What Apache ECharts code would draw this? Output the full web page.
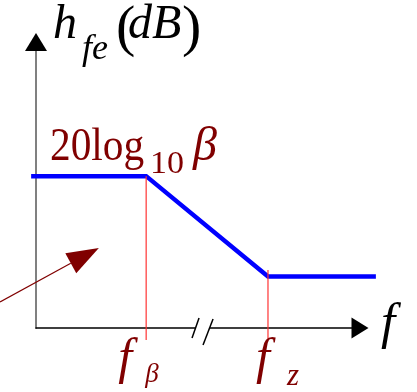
<!DOCTYPE html>
<html>
<head>
<meta charset="utf-8">
<script src="https://cdn.jsdelivr.net/npm/echarts@6/dist/echarts.min.js"></script>
<style>
  html, body { margin: 0; padding: 0; background: #fff; }
  #c { width: 417px; height: 392px; }
</style>
</head>
<body>
<div id="c"></div>
<script>
// Asymptotic (Bode) gain of h_fe versus frequency, in abstract axis units.
const freqPts = [-0.15, 3.4, 7.16, 10.49];
const gainPts = [5.31, 5.31, 1.80, 1.80];

// Corner frequencies: f_beta and f_z, with the top of each marker line.
const cornerFreqs = [3.4, 7.16];
const cornerTops = [5.31, 2.03];
const cornerSubs = ['β', 'z'];
const markerFloor = -0.42;

// Axis break position and the annotation pointer (tail -> head).
const breakAt = 5.14;
const pointerTail = [-1.11, 0.91];
const pointerHead = [1.94, 2.80];

// Text pieces.
const yLabel = ['h', 'fe', '(', 'dB', ')'];
const levelLabel = ['20log', '10', 'β'];
const xLabel = 'f';

const SERIF = '"Liberation Serif"';
const DARK_RED = '#800000';

// Axis frame: x from 0 to 10, y from 0 to 10.
const X_MIN = 0, X_MAX = 10, Y_MIN = 0, Y_MAX = 10;
const G_LEFT = 36, G_RIGHT = 57, G_TOP = 42, G_BOTTOM = 64;
const W = 417;
// The gain curve runs a little past both ends of the axes, so it gets its own
// grid spanning its full frequency range with the same units-per-pixel.
const unitPx = (W - G_LEFT - G_RIGHT) / (X_MAX - X_MIN);
const curveMin = Math.min.apply(null, freqPts), curveMax = Math.max.apply(null, freqPts);
const curveLeft = G_LEFT + (curveMin - X_MIN) * unitPx;
const curveRight = W - (G_LEFT + (curveMax - X_MIN) * unitPx);

const hiddenAxis = {
  show: false, type: 'value',
  axisLine: { show: false }, axisTick: { show: false }, axisLabel: { show: false }, splitLine: { show: false }
};

const chart = echarts.init(document.getElementById('c'), null, { renderer: 'canvas' });

chart.setOption({
  animation: false,
  backgroundColor: '#ffffff',
  grid: [
    { left: G_LEFT, right: G_RIGHT, top: G_TOP, bottom: G_BOTTOM },
    { left: curveLeft, right: curveRight, top: G_TOP, bottom: G_BOTTOM }
  ],
  xAxis: [
    {
      gridIndex: 0, type: 'value', min: X_MIN, max: X_MAX,
      axisLine: {
        show: true,
        lineStyle: { color: '#000000', width: 1.5 },
        symbol: ['none', 'triangle'],
        symbolSize: [21, 17]
      },
      axisTick: { show: false }, axisLabel: { show: false }, splitLine: { show: false }
    },
    Object.assign({ gridIndex: 1, min: curveMin, max: curveMax }, hiddenAxis)
  ],
  yAxis: [
    {
      gridIndex: 0, type: 'value', min: Y_MIN, max: Y_MAX,
      axisLine: { show: true, onZero: false, lineStyle: { color: '#808080', width: 2 } },
      axisTick: { show: false }, axisLabel: { show: false }, splitLine: { show: false }
    },
    Object.assign({ gridIndex: 1, min: Y_MIN, max: Y_MAX }, hiddenAxis)
  ],
  series: [
    {
      type: 'line',
      xAxisIndex: 1, yAxisIndex: 1,
      data: freqPts.map((f, i) => [f, gainPts[i]]),
      symbol: 'none',
      clip: false,
      lineStyle: { color: '#0000ff', width: 4.5, cap: 'butt', join: 'miter' },
      z: 3
    }
  ].concat(cornerFreqs.map((f, i) => ({
    type: 'line',
    xAxisIndex: 0, yAxisIndex: 0,
    data: [[f, cornerTops[i]], [f, markerFloor]],
    symbol: 'none',
    clip: false,
    lineStyle: { color: '#ff3333', width: 1.2 },
    z: 4
  })))
});

const px = (p) => chart.convertToPixel({ gridIndex: 0 }, p);

// Text helper: (x, baseline) in pixels; zrender draws with a middle baseline.
function txt(s, x, base, size, color, italic, sx) {
  return {
    type: 'text', z: 50,
    x: x, y: base - 0.3375 * size,
    scaleX: sx || 1,
    style: {
      text: s, x: 0, y: 0,
      font: (italic ? 'italic ' : '') + size + 'px ' + SERIF,
      fill: color, align: 'left', verticalAlign: 'middle'
    }
  };
}

const g = [];

// Y axis arrow head
const yTop = px([X_MIN, Y_MAX]);
g.push({
  type: 'polygon', z: 40,
  shape: { points: [[yTop[0], yTop[1] - 9], [yTop[0] - 11, yTop[1] + 9], [yTop[0] + 11, yTop[1] + 9]] },
  style: { fill: '#000000' }
});

// Axis break "//"
const bc = px([breakAt, 0]);
g.push({
  type: 'rect', z: 40,
  shape: { x: bc[0] - 7.5, y: bc[1] - 4, width: 15, height: 8 },
  style: { fill: '#ffffff' }
});
g.push({
  type: 'line', z: 41,
  shape: { x1: bc[0] - 3.5, y1: bc[1] - 10, x2: bc[0] - 10.5, y2: bc[1] + 10 },
  style: { stroke: '#000000', lineWidth: 1.5 }
});
g.push({
  type: 'line', z: 41,
  shape: { x1: bc[0] + 10.5, y1: bc[1] - 9, x2: bc[0] + 0.5, y2: bc[1] + 17 },
  style: { stroke: '#000000', lineWidth: 1.5 }
});

// Pointer arrow
const pt = px(pointerTail), ph = px(pointerHead);
const dx = ph[0] - pt[0], dy = ph[1] - pt[1];
const len = Math.hypot(dx, dy);
const ux = dx / len, uy = dy / len, nx = -uy, ny = ux;
const headLen = 32, headHalf = 11.4;
const bx = ph[0] - ux * headLen, by = ph[1] - uy * headLen;
g.push({
  type: 'line', z: 30,
  shape: { x1: pt[0], y1: pt[1], x2: bx, y2: by },
  style: { stroke: DARK_RED, lineWidth: 1.2 }
});
g.push({
  type: 'polygon', z: 31,
  shape: { points: [[ph[0], ph[1]], [bx + nx * headHalf, by + ny * headHalf], [bx - nx * headHalf, by - ny * headHalf]] },
  style: { fill: DARK_RED }
});

// Y axis title: h_fe(dB)
g.push(txt(yLabel[0], 53, 42, 48, '#000', true));
g.push(txt(yLabel[1], 82, 62, 36, '#000', true));
g.push(txt(yLabel[2], 116, 49.5, 58, '#000', false));
g.push(txt(yLabel[3], 128, 42, 48, '#000', true));
g.push(txt(yLabel[4], 182, 49.5, 58, '#000', false));

// Low-frequency level label: 20log10 beta
const lvl = px([X_MIN, gainPts[0]]);
g.push(txt(levelLabel[0], 50, lvl[1] - 13, 47, DARK_RED, false, 0.88));
g.push(txt(levelLabel[1], 150, lvl[1] - 1, 31, DARK_RED, false, 1.1));
g.push(txt(levelLabel[2], 193, lvl[1] - 13, 48, DARK_RED, true));

// Corner frequency labels
const fOff = [-28, -12], subOff = [-1, 19], subBase = [384, 387], subSize = [27, 31];
cornerFreqs.forEach((f, i) => {
  const p = px([f, 0]);
  g.push(txt('f', p[0] + fOff[i], 377, 50, DARK_RED, true));
  g.push(txt(cornerSubs[i], p[0] + subOff[i], subBase[i], subSize[i], DARK_RED, true));
});

// X axis title
const xEnd = px([X_MAX, 0]);
g.push(txt(xLabel, xEnd[0] + 21, 341.5, 51, '#000', true));

chart.setOption({ graphic: { elements: g } });
</script>
</body>
</html>
